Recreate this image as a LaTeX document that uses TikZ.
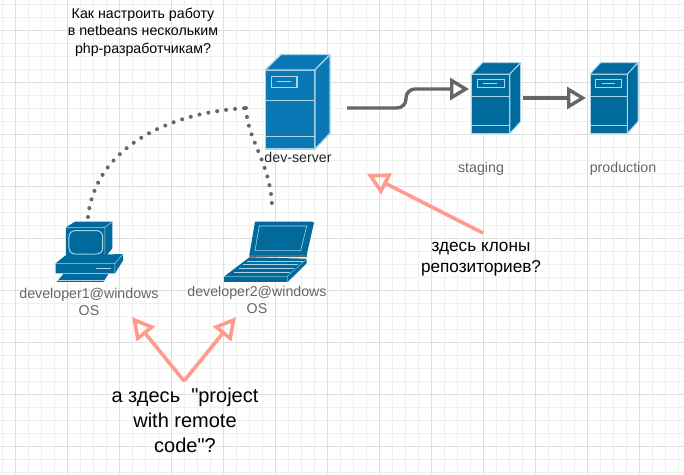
\documentclass[tikz,border=0pt]{standalone}
\usepackage{fontspec}
\setmainfont{Liberation Sans}[Ligatures=TeXOff]
\usetikzlibrary{arrows.meta,calc}
\definecolor{srv}{HTML}{016A9C}
\definecolor{srvhi}{HTML}{0A78B4}
\definecolor{edge}{HTML}{A9D3E8}
\definecolor{conn}{HTML}{666666}
\definecolor{pinkline}{HTML}{FF9A8C}
\definecolor{gridmin}{HTML}{F0F0F0}
\definecolor{gridmaj}{HTML}{DEDEDE}
\tikzset{
  x=1pt,y=-1pt,
  blueface/.style={fill=srv,draw=edge,line width=1pt,line join=round},
  blueplain/.style={fill=srv,draw=none},
  lightline/.style={draw=edge,line width=1pt},
  flow/.style={draw=conn,line width=3.4pt,rounded corners=9pt,-{Triangle[open,length=19pt,width=22pt,line width=3.4pt]}},
  dots/.style={draw=conn,line width=4pt,line cap=round,dash pattern=on 0pt off 9pt},
  pinkarrow/.style={draw=pinkline,line width=3.6pt,-{Triangle[open,length=22pt,width=23pt,line width=3.6pt]}},
  lab/.style={text=conn,font=\fontsize{14.2}{17.5}\selectfont,align=center,inner sep=0pt},
  note/.style={text=black,align=center,inner sep=0pt},
  slot/.style={minimum width=#1,minimum height=70.6pt,inner sep=0pt,outer sep=0pt,draw=none},
  srvpic/.pic={
    \path[blueface] (0,0) -- (.78,0) -- (.78,1) -- (0,1) -- cycle;
    \path[blueface] (0,0) -- (.22,-.19) -- (1,-.19) -- (.78,0) -- cycle;
    \path[blueface] (.78,0) -- (1,-.19) -- (1,.8) -- (.78,1) -- cycle;
    \path[lightline] (0,.38) -- (.78,.38) (0,.86) -- (.78,.86);
    \path[lightline] (.11,.09) rectangle (.66,.22);
    \path[lightline] (.24,.155) -- (.52,.155);
  }
}
\begin{document}
\begin{tikzpicture}
\useasboundingbox (0,0) rectangle (684,474);
\fill[white] (0,0) rectangle (684,474);
% grid
\foreach \i in {0,...,53} \draw[gridmin,line width=.8pt] ({2+13*\i},0) -- ({2+13*\i},474);
\foreach \i in {0,...,37} \draw[gridmin,line width=.8pt] (0,{4+13*\i}) -- (684,{4+13*\i});
\foreach \i in {0,...,13} \draw[gridmaj,line width=1pt] ({15+52*\i},0) -- ({15+52*\i},474);
\foreach \i in {0,...,8} \draw[gridmaj,line width=1pt] (0,{30+52*\i}) -- (684,{30+52*\i});

% dev server
\begin{scope}[shift={(265.3,70)},x=64.7pt,y=-79pt]
  \path[fill=srvhi,draw=edge,line width=1.2pt,line join=round] (0,0) -- (.767,0) -- (.767,1) -- (0,1) -- cycle;
  \path[fill=srvhi,draw=edge,line width=1.2pt,line join=round] (0,0) -- (.24,-.195) -- (1,-.195) -- (.767,0) -- cycle;
  \path[fill=srvhi,draw=edge,line width=1.2pt,line join=round] (.767,0) -- (1,-.195) -- (1,.8) -- (.767,1) -- cycle;
  \path[lightline,line width=1.2pt] (0,.39) -- (.767,.39) (0,.84) -- (.767,.84);
  \path[lightline,line width=1.2pt] (.09,.08) rectangle (.49,.22);
  \path[lightline,line width=1.2pt] (.18,.15) -- (.39,.15);
\end{scope}
\node[slot=64.7pt,minimum height=94.3pt] (dev) at (297.6,102) {};
% staging
\begin{scope}[shift={(471.7,74)},x=49pt,y=-59.3pt]
  \pic {srvpic};
\end{scope}
\node[slot=54pt] (staging) at (496,98) {};
% production
\begin{scope}[shift={(590,74)},x=48pt,y=-59.3pt]
  \pic {srvpic};
\end{scope}
\node[slot=54pt] (production) at (613,98) {};

% desktop
\begin{scope}[shift={(40,210)},x=.3333pt,y=-.3333pt]
  \path[blueplain] (78,52) -- (105,35) -- (217,35) -- (217,115) -- (195,142) -- (78,142) -- cycle;
  \path[lightline,line width=.5pt] (78,52) -- (195,52) -- (217,35) (195,52) -- (195,142);
  \path[lightline,rounded corners=6pt] (87,62) rectangle (188,132);
  \path[blueplain] (47,160) -- (75,137) -- (248,132) -- (250,150) -- (225,190) -- (47,190) -- cycle;
  \path[lightline,line width=.5pt] (47,160) -- (225,160) -- (248,133) (225,160) -- (225,190);
  \path[lightline] (168,176) -- (212,176);
  \path[blueplain] (70,192) -- (205,192) -- (190,216) -- (50,216) -- cycle;
  \path[lightline,line width=.4pt] (55,210) -- (192,210);
\end{scope}
\node[minimum width=68pt,minimum height=62pt,inner sep=0pt] (dev1) at (88,250) {};

% laptop
\begin{scope}[shift={(210,210)},x=.3333pt,y=-.3333pt]
  \path[blueplain] (135,35) -- (305,35) -- (312,38) -- (290,135) -- (118,135) -- cycle;
  \path[lightline,line width=.6pt] (148,48) -- (290,48) -- (272,122) -- (135,122) -- cycle;
  \fill[conn] (118,135) -- (292,135) -- (291,141) -- (118,141) -- cycle;
  \path[blueplain] (118,142) -- (290,146) -- (230,200) -- (42,200) -- cycle;
  \foreach \k in {0,1,2,3} \path[lightline,line width=.2pt] ({112-13*\k},{152+11*\k}) -- ({278-13*\k},{152+11*\k});
  \path[blueplain] (42,202) -- (230,202) -- (230,217) -- (42,217) -- cycle;
  \path[blueplain] (232,200) -- (290,148) -- (290,160) -- (232,217) -- cycle;
\end{scope}
\node[minimum width=92pt,minimum height=62pt,inner sep=0pt] (dev2) at (269,251) {};

% dotted links
\coordinate (hub) at (248,108);
\draw[dots] (88,217) .. controls (95,150) and (165,112) .. (hub);
\draw[dots] (246,108) .. controls (247,140) and (272,165) .. (272,209);

% flows
\coordinate (devout) at (347,108);
\coordinate (stagein) at ($(staging.west)+(0,-9)$);
\draw[flow] (devout) -- (406,108) -- (406,89) -- (stagein);
\draw[flow] (staging.east) -- (production.west);

% pink arrows
\coordinate (apex) at (184,381);
\coordinate (tipa) at (132,317);
\coordinate (tipb) at (236,317);
\coordinate (clonefrom) at (483,233);
\coordinate (cloneto) at (367,174);
\draw[pinkarrow] (apex) -- (tipa);
\draw[pinkarrow] (apex) -- (tipb);
\draw[pinkarrow] (clonefrom) -- (cloneto);

% labels
\node[note,font=\fontsize{14.2}{17.5}\selectfont] (title) at (143,32) {Как настроить работу\\в netbeans нескольким\\php-разработчикам?};
\node[inner sep=0pt,text=black!85,font=\fontsize{14.2}{17}\selectfont] (devlab) at (298,157) {dev-server};
\node[lab] (staglab) at (481,168.5) {staging};
\node[lab] (prodlab) at (623,168.5) {production};
\node[lab] (d1lab) at (89,302) {developer1@windows\\OS};
\node[lab] (d2lab) at (257,300) {developer2@windows\\OS};
\node[note,font=\fontsize{17.2}{21}\selectfont] (clones) at (481,259.5) {здесь клоны\\репозиториев?};
\node[note,font=\fontsize{20}{25}\selectfont] (rem) at (185,420) {а здесь\ \ "project\\with remote\\code"?};
\end{tikzpicture}
\end{document}
